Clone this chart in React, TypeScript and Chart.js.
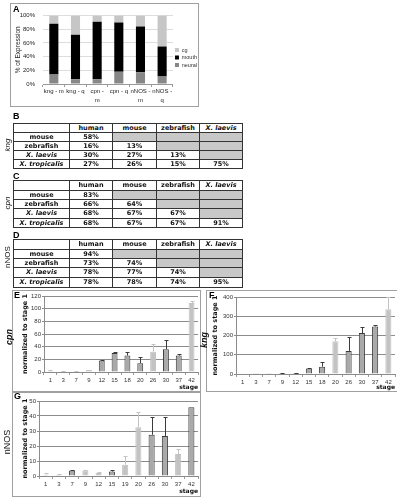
import React, { useEffect, useRef } from "react";
import { Chart, registerables } from "chart.js";
Chart.register(...registerables);

// ---------- Panel A data ----------
const distLabels = [["kng - m"], ["kng - q"], ["cpn -", "m"], ["cpn - q"], ["nNOS -", "m"], ["nNOS -", "q"]];
const neuralPct = [14, 7, 7, 18, 17, 11];
const mouthPct = [74, 65, 84, 72, 67, 44];
const cgPct = [12, 28, 9, 10, 16, 45];

// ---------- Tables B-D ----------
const speciesCols = ["human", "mouse", "zebrafish", "X. laevis"];
const speciesRows = ["mouse", "zebrafish", "X. laevis", "X. tropicalis"];
const kngIdentity = [
  ["58%", "", "", ""],
  ["16%", "13%", "", ""],
  ["30%", "27%", "13%", ""],
  ["27%", "26%", "15%", "75%"],
];
const cpnIdentity = [
  ["83%", "", "", ""],
  ["66%", "64%", "", ""],
  ["68%", "67%", "67%", ""],
  ["68%", "67%", "67%", "91%"],
];
const nnosIdentity = [
  ["94%", "", "", ""],
  ["73%", "74%", "", ""],
  ["78%", "77%", "74%", ""],
  ["78%", "78%", "74%", "95%"],
];

// ---------- Panels E-G data ----------
const stagesEF = ["1", "3", "7", "9", "12", "15", "18", "20", "26", "30", "37", "42"];
const stagesG = ["1", "3", "7", "9", "12", "15", "19", "20", "26", "30", "37", "42"];
const cpnValues = [1.5, 1, 0.5, 3, 18, 30, 26, 14, 32, 36, 26, 109];
const cpnErrors = [1, 0.5, 0.3, 0.5, 1, 1, 6, 10, 12, 14, 3, 3];
const cpnOutlined = [0, 0, 0, 0, 1, 1, 1, 1, 0, 1, 1, 0];
const kngValues = [1, 0.5, 0.5, 5, 5, 29, 38, 170, 120, 213, 247, 336];
const kngErrors = [0, 0, 0, 1, 1, 4, 26, 15, 70, 31, 7, 65];
const kngOutlined = [0, 0, 0, 1, 1, 1, 1, 0, 1, 1, 1, 0];
const nnosValues = [0.9, 0.8, 3.7, 3.7, 2, 3, 7.5, 32.5, 27.5, 26.7, 14.6, 45.8];
const nnosErrors = [1.3, 0.3, 0.2, 0.6, 1, 1.2, 6, 10, 11.5, 12.3, 3.4, 0];
const nnosOutlined = [0, 0, 1, 0, 0, 1, 0, 0, 1, 1, 0, 1];

const SANS = "'Liberation Sans', Arial, sans-serif";
const VERD = "'DejaVu Sans', Verdana, sans-serif";

const errorBarPlugin = {
  id: "errorBars",
  afterDatasetsDraw(chart: any, _args: any, opts: any) {
    const errs = opts && opts.errors;
    if (!errs) return;
    const meta = chart.getDatasetMeta(0);
    const ys = chart.scales.y;
    const ctx = chart.ctx;
    const area = chart.chartArea;
    ctx.save();
    ctx.beginPath();
    ctx.rect(area.left, area.top - 1, area.right - area.left, area.bottom - area.top + 1);
    ctx.clip();
    meta.data.forEach((bar: any, i: number) => {
      const e = errs[i];
      if (!e) return;
      const v = chart.data.datasets[0].data[i];
      const y0 = ys.getPixelForValue(v);
      const y1 = Math.round(ys.getPixelForValue(v + e));
      const x = Math.round(bar.x) + 0.5;
      ctx.strokeStyle = opts.colors[i];
      ctx.lineWidth = 1;
      ctx.beginPath();
      ctx.moveTo(x, y0);
      ctx.lineTo(x, y1);
      ctx.moveTo(x - 2, y1 + 0.5);
      ctx.lineTo(x + 2, y1 + 0.5);
      ctx.stroke();
    });
    ctx.restore();
  },
};

function ChartBox({ make, left, top, width, height }: any) {
  const ref = useRef<HTMLCanvasElement>(null);
  useEffect(() => {
    const chart = new Chart(ref.current as HTMLCanvasElement, make());
    return () => chart.destroy();
  }, []);
  return (
    <canvas
      ref={ref}
      width={width}
      height={height}
      style={{ position: "absolute", left, top, width, height }}
    />
  );
}

function distConfig(): any {
  return {
    type: "bar",
    data: {
      labels: distLabels,
      datasets: [
        { label: "neural", data: neuralPct, backgroundColor: "#878787" },
        { label: "mouth", data: mouthPct, backgroundColor: "#000000" },
        { label: "cg", data: cgPct, backgroundColor: "#c6c6c6" },
      ],
    },
    options: {
      responsive: false,
      animation: false,
      events: [],
      datasets: { bar: { categoryPercentage: 0.42, barPercentage: 1 } },
      layout: { padding: { left: 0, right: 0, top: 6, bottom: 0 } },
      plugins: {
        tooltip: { enabled: false },
        legend: {
          position: "right",
          reverse: true,
          labels: {
            boxWidth: 4,
            boxHeight: 4,
            padding: 2,
            color: "#333",
            font: { family: SANS, size: 5.5 },
          },
        },
      },
      scales: {
        x: {
          stacked: true,
          grid: { display: true, drawOnChartArea: false, offset: true, tickLength: 3, color: "#999" },
          border: { color: "#999" },
          ticks: {
            font: { family: SANS, size: 6, lineHeight: 1.5 },
            color: "#222",
            padding: 0,
            maxRotation: 0,
            autoSkip: false,
          },
          afterFit: (s: any) => {
            s.height = 21;
          },
        },
        y: {
          stacked: true,
          min: 0,
          max: 100,
          ticks: {
            stepSize: 20,
            callback: (v: any) => v + "%",
            font: { family: SANS, size: 6 },
            color: "#222",
            padding: 8,
          },
          grid: { color: "#dddddd", drawTicks: false },
          border: { display: false },
          title: {
            display: true,
            text: "% of Expression",
            font: { family: SANS, size: 6.5 },
            color: "#222",
            padding: { top: 3, bottom: 0 },
          },
          afterFit: (s: any) => {
            s.width = 32;
          },
        },
      },
    },
  };
}

function stageConfig(p: any): any {
  const fill = p.outlined.map((d: number) => (d ? "#a9a9a9" : "#c3c3c3"));
  const border = p.outlined.map((d: number) => (d ? "#3a3a3a" : "#c3c3c3"));
  return {
    type: "bar",
    data: {
      labels: p.labels,
      datasets: [
        {
          data: p.values,
          backgroundColor: fill,
          borderColor: border,
          borderWidth: 1,
          categoryPercentage: 0.5,
          barPercentage: 0.92,
        },
      ],
    },
    options: {
      responsive: false,
      animation: false,
      events: [],
      layout: { padding: p.padding },
      plugins: {
        legend: { display: false },
        tooltip: { enabled: false },
        errorBars: { errors: p.errors, colors: border },
      },
      scales: {
        x: {
          grid: { display: true, drawOnChartArea: false, offset: true, tickLength: 3, color: "#9a9a9a" },
          border: { color: "#8a8a8a" },
          ticks: {
            font: { family: SANS, size: 6 },
            color: "#333",
            padding: 2,
            maxRotation: 0,
            autoSkip: false,
          },
          title: {
            display: true,
            text: "stage",
            align: "end",
            font: { family: VERD, size: 6, weight: "bold" },
            color: "#111",
            padding: { top: 0, bottom: p.stagePad },
          },
          afterFit: (s: any) => {
            s.height = p.xHeight;
          },
        },
        y: {
          min: 0,
          max: p.max,
          ticks: {
            stepSize: p.step,
            font: { family: SANS, size: 6 },
            color: "#333",
            padding: 1,
          },
          grid: { color: "#8c8c8c", tickLength: 2 },
          border: { color: "#8c8c8c" },
          title: {
            display: true,
            text: "normalized to stage 1",
            font: { family: VERD, size: 6.5, weight: "bold" },
            color: "#111",
            padding: { top: p.titlePad, bottom: 0 },
          },
          afterFit: (s: any) => {
            s.width = p.yWidth;
          },
        },
      },
    },
    plugins: [errorBarPlugin],
  };
}

function IdentityTable({ top, data, heights }: any) {
  const widths = [56, 43, 44, 43, 43];
  const cell: any = {
    border: "1px solid #333",
    padding: 0,
    textAlign: "center",
    verticalAlign: "middle",
    overflow: "hidden",
    whiteSpace: "nowrap",
  };
  return (
    <table
      style={{
        position: "absolute",
        left: 13,
        top,
        borderCollapse: "collapse",
        tableLayout: "fixed",
        width: 229,
        fontFamily: VERD,
        fontWeight: "bold",
        fontSize: 6.5,
        color: "#111",
        lineHeight: 1,
      }}
    >
      <colgroup>
        {widths.map((w, i) => (
          <col key={i} style={{ width: w }} />
        ))}
      </colgroup>
      <tbody>
        <tr style={{ height: heights[0] }}>
          <td style={{ ...cell }}></td>
          {speciesCols.map((c, i) => (
            <td key={i} style={{ ...cell, fontStyle: c.startsWith("X.") ? "italic" : "normal" }}>
              {c}
            </td>
          ))}
        </tr>
        {speciesRows.map((r, ri) => (
          <tr key={ri} style={{ height: heights[ri + 1] }}>
            <td style={{ ...cell, fontStyle: r.startsWith("X.") ? "italic" : "normal" }}>{r}</td>
            {data[ri].map((v: string, ci: number) => (
              <td key={ci} style={{ ...cell, background: v === "" ? "#c8c8c8" : "#fff" }}>
                {v}
              </td>
            ))}
          </tr>
        ))}
      </tbody>
    </table>
  );
}

function Letter({ x, y, t }: any) {
  return (
    <div
      style={{
        position: "absolute",
        left: x,
        top: y,
        fontFamily: SANS,
        fontWeight: "bold",
        fontSize: 9,
        lineHeight: "9px",
        color: "#000",
      }}
    >
      {t}
    </div>
  );
}

function Side({ x, y, t, italic, size, bold }: any) {
  return (
    <div
      style={{
        position: "absolute",
        left: x,
        top: y,
        transform: "translate(-50%, -50%) rotate(-90deg)",
        fontFamily: SANS,
        fontStyle: italic ? "italic" : "normal",
        fontWeight: bold ? "bold" : "normal",
        fontSize: size,
        lineHeight: 1,
        whiteSpace: "nowrap",
        color: "#111",
      }}
    >
      {t}
    </div>
  );
}

function Frame({ left, top, width, height }: any) {
  return (
    <div
      style={{
        position: "absolute",
        left,
        top,
        width,
        height,
        border: "1px solid #a0a0a0",
        boxSizing: "border-box",
      }}
    />
  );
}

export default function App() {
  useEffect(() => {
    document.body.style.margin = "0";
  }, []);
  return (
    <div style={{ position: "relative", width: 397, height: 500, background: "#fff", overflow: "hidden" }}>
      {/* Panel A */}
      <Frame left={10} top={3} width={189} height={104} />
      <ChartBox make={distConfig} left={11} top={4} width={196} height={101} />
      <Letter x={13} y={5} t="A" />

      {/* Tables */}
      <Letter x={13} y={112} t="B" />
      <IdentityTable top={123} data={kngIdentity} heights={[9, 9, 9, 9, 9]} />
      <Side x={8} y={145} t="kng" italic size={8} />

      <Letter x={13} y={172} t="C" />
      <IdentityTable top={180} data={cpnIdentity} heights={[10, 9, 9, 10, 9]} />
      <Side x={8} y={203} t="cpn" italic size={8} />

      <Letter x={13} y={231} t="D" />
      <IdentityTable top={239} data={nnosIdentity} heights={[10, 9, 9, 10, 10]} />
      <Side x={8} y={257} t="nNOS" size={8} />

      {/* Panel E */}
      <Frame left={12} top={290} width={189} height={102} />
      <ChartBox
        left={12}
        top={288}
        width={188}
        height={103}
        make={() =>
          stageConfig({
            labels: stagesEF,
            values: cpnValues,
            errors: cpnErrors,
            outlined: cpnOutlined,
            max: 120,
            step: 20,
            yWidth: 32,
            xHeight: 19,
            titlePad: 9,
            stagePad: 0,
            padding: { left: 0, right: 2, top: 8, bottom: 0 },
          })
        }
      />
      <Letter x={14} y={291} t="E" />
      <Side x={9} y={337} t="cpn" italic bold size={9} />

      {/* Panel F */}
      <Frame left={206} top={290} width={192} height={102} />
      <ChartBox
        left={206}
        top={288}
        width={191}
        height={103}
        make={() =>
          stageConfig({
            labels: stagesEF,
            values: kngValues,
            errors: kngErrors,
            outlined: kngOutlined,
            max: 400,
            step: 100,
            yWidth: 30,
            xHeight: 17,
            titlePad: 5,
            stagePad: 0,
            padding: { left: 0, right: 2, top: 9, bottom: 0 },
          })
        }
      />
      <Letter x={209} y={291} t="F" />
      <Side x={204} y={340} t="kng" italic bold size={9} />

      {/* Panel G */}
      <Frame left={12} top={392} width={189} height={105} />
      <ChartBox
        left={12}
        top={391}
        width={188}
        height={106}
        make={() =>
          stageConfig({
            labels: stagesG,
            values: nnosValues,
            errors: nnosErrors,
            outlined: nnosOutlined,
            max: 50,
            step: 10,
            yWidth: 27,
            xHeight: 21,
            titlePad: 9,
            stagePad: 2,
            padding: { left: 0, right: 2, top: 10, bottom: 0 },
          })
        }
      />
      <Letter x={14} y={392} t="G" />
      <Side x={7} y={442} t="nNOS" size={9} />
    </div>
  );
}
